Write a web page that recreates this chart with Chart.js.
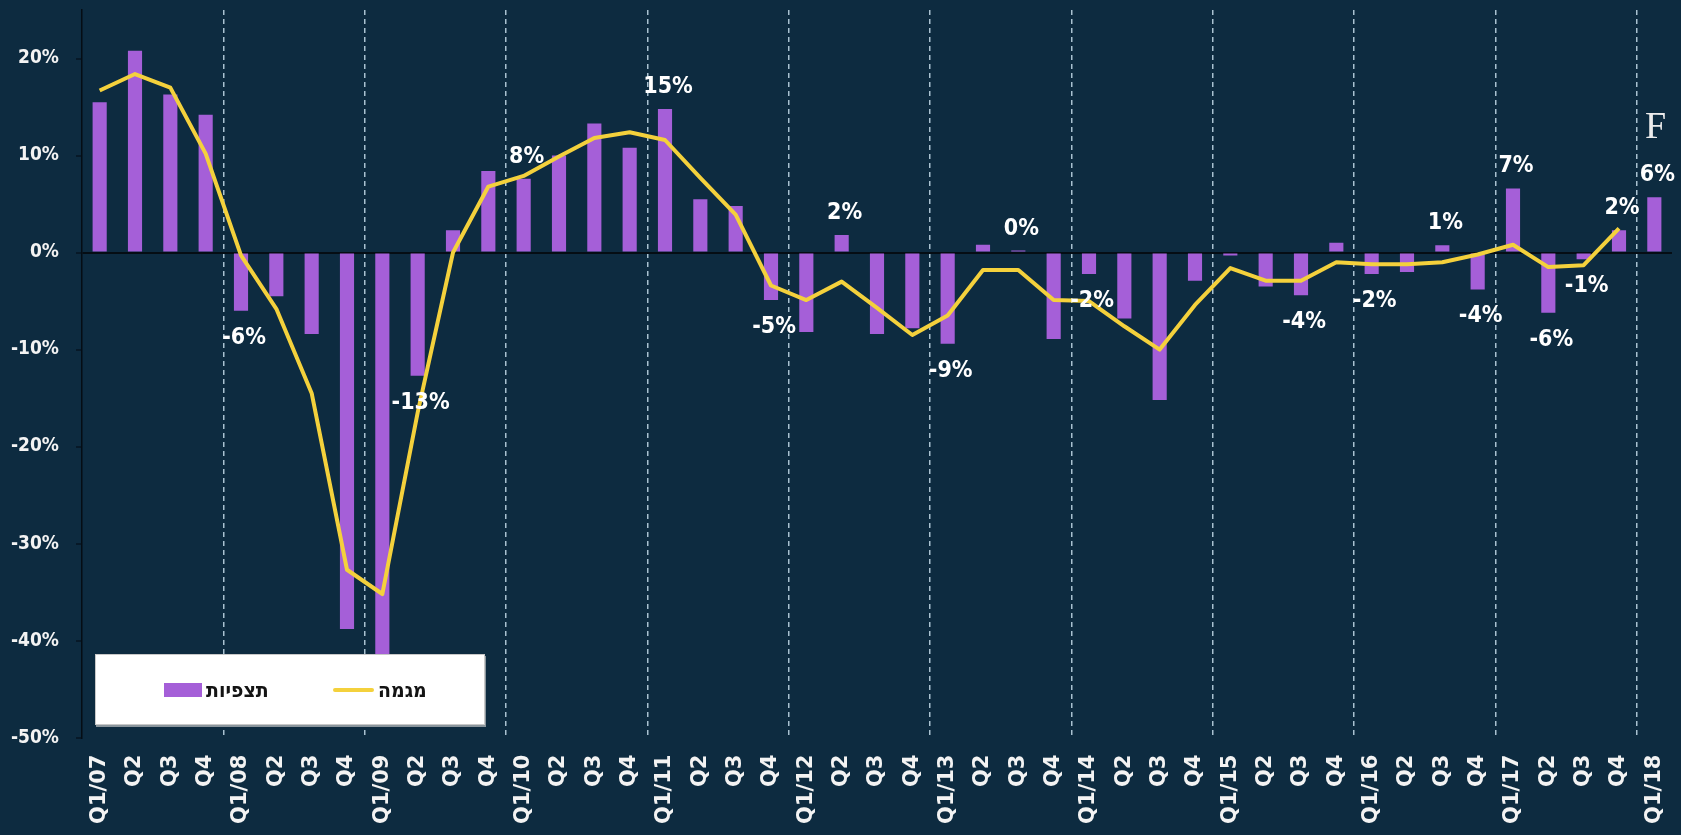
<!DOCTYPE html>
<html>
<head>
<meta charset="utf-8">
<script src="https://cdn.jsdelivr.net/npm/chart.js@4.4.1/dist/chart.umd.min.js"></script>
<style>
  html, body { margin: 0; padding: 0; background: #0d2b40; overflow: hidden; }
  #wrap { position: relative; width: 1681px; height: 840px; }
  #legend {
    position: absolute; left: 95px; top: 654px; width: 388px; height: 69px;
    background: #ffffff; border: 1px solid #c8c8c8; box-shadow: 1px 2px 0 #8a959c;
    font: bold 21px 'DejaVu Sans Condensed', 'Liberation Sans', sans-serif; color: #141414;
  }
  .lg-item { position: absolute; top: 0; height: 69px; display: flex; align-items: center; }
  .lg-swatch { display: inline-block; margin-right: 4px; }
</style>
</head>
<body>
<div id="wrap">
  <canvas id="c"></canvas>
  <div id="legend"></div>
</div>
<script>
// ---- data ----
const categories = [
  'Q1/07','Q2','Q3','Q4',
  'Q1/08','Q2','Q3','Q4',
  'Q1/09','Q2','Q3','Q4',
  'Q1/10','Q2','Q3','Q4',
  'Q1/11','Q2','Q3','Q4',
  'Q1/12','Q2','Q3','Q4',
  'Q1/13','Q2','Q3','Q4',
  'Q1/14','Q2','Q3','Q4',
  'Q1/15','Q2','Q3','Q4',
  'Q1/16','Q2','Q3','Q4',
  'Q1/17','Q2','Q3','Q4',
  'Q1/18'
];
const expectationsName = 'תצפיות';
const expectations = [
  15.5, 20.8, 16.3, 14.2,
  -6.0, -4.5, -8.4, -38.8,
  -42.0, -12.7, 2.3, 8.4,
  7.6, 10.0, 13.3, 10.8,
  14.8, 5.5, 4.8, -4.9,
  -8.2, 1.8, -8.4, -7.8,
  -9.4, 0.8, 0.2, -8.9,
  -2.2, -6.8, -15.2, -2.9,
  -0.3, -3.5, -4.4, 1.0,
  -2.2, -2.0, 0.75, -3.8,
  6.6, -6.2, -0.7, 2.3,
  5.7
];
const trendName = 'מגמה';
const trend = [
  16.7, 18.4, 17.0, 10.2,
  -0.3, -5.8, -14.5, -32.7,
  -35.2, -16.5, 0.0, 6.8,
  7.9, 9.9, 11.8, 12.4,
  11.6, 7.7, 3.9, -3.4,
  -4.9, -3.0, -5.7, -8.5,
  -6.5, -1.8, -1.8, -4.9,
  -5.0, -7.6, -10.0, -5.4,
  -1.6, -2.9, -2.9, -1.0,
  -1.2, -1.2, -1.0, -0.2,
  0.8, -1.5, -1.3, 2.5,
  null
];
const barLabels = [
  null, null, null, null,
  '-6%', null, null, null,
  null, '-13%', null, null,
  '8%', null, null, null,
  '15%', null, null, '-5%',
  null, '2%', null, null,
  '-9%', null, '0%', null,
  '-2%', null, null, null,
  null, null, '-4%', null,
  '-2%', null, '1%', '-4%',
  '7%', '-6%', '-1%', '2%',
  '6%'
];
const yTickValues = [-50, -40, -30, -20, -10, 0, 10, 20];
const cornerMark = 'F';

// ---- styles ----
const BG = '#0d2b40';
const PURPLE = '#a55fd8';
const YELLOW = '#f4d13c';
const condensed = "'DejaVu Sans Condensed', 'Liberation Sans Narrow', 'DejaVu Sans', sans-serif";

const bgPlugin = {
  id: 'bg',
  beforeDraw(chart) {
    const ctx = chart.ctx;
    ctx.save();
    ctx.fillStyle = BG;
    ctx.fillRect(0, 0, chart.width, chart.height);
    ctx.restore();
  }
};

const labelPlugin = {
  id: 'barLabels',
  afterDatasetsDraw(chart) {
    const meta = chart.getDatasetMeta(0);
    const ctx = chart.ctx;
    ctx.save();
    ctx.font = 'bold 23px ' + condensed;
    ctx.fillStyle = '#ffffff';
    ctx.textAlign = 'center';
    ctx.textBaseline = 'middle';
    meta.data.forEach((bar, i) => {
      const t = barLabels[i];
      if (!t) return;
      const v = expectations[i];
      const y = v >= 0 ? bar.y - 22 : bar.y + 27;
      ctx.fillText(t, bar.x + 3, y);
    });
    // corner mark
    const ca = chart.chartArea;
    ctx.font = "38px 'Liberation Serif', 'DejaVu Serif', serif";
    ctx.fillStyle = '#ececec';
    ctx.textAlign = 'left';
    ctx.textBaseline = 'alphabetic';
    ctx.fillText(cornerMark, ca.right - 27, 138);
    ctx.restore();
  }
};

const chart = new Chart(document.getElementById('c'), {
  data: {
    labels: categories,
    datasets: [
      {
        type: 'bar',
        label: expectationsName,
        data: expectations,
        backgroundColor: PURPLE,
        borderWidth: 0,
        barPercentage: 0.4,
        categoryPercentage: 1.0,
        order: 2
      },
      {
        type: 'line',
        label: trendName,
        data: trend,
        borderColor: YELLOW,
        backgroundColor: YELLOW,
        borderWidth: 4,
        pointRadius: 0,
        tension: 0,
        spanGaps: false,
        borderJoinStyle: 'round',
        order: 1
      }
    ]
  },
  options: {
    responsive: true,
    maintainAspectRatio: false,
    animation: false,
    layout: { padding: { top: 10, right: 9, left: 0, bottom: 0 } },
    plugins: { legend: { display: false }, tooltip: { enabled: false } },
    scales: {
      x: {
        type: 'category',
        offset: true,
        grid: {
          offset: true,
          drawTicks: false,
          lineWidth: 1.5,
          color: (ctx) => {
            if (!ctx.tick || ctx.index === 0) return 'rgba(0,0,0,0)';
            const lbl = categories[ctx.index];
            return (lbl && lbl.startsWith('Q1/')) ? '#a9c1d0' : 'rgba(0,0,0,0)';
          }
        },
        border: { display: false, dash: [5, 4] },
        ticks: {
          autoSkip: false,
          minRotation: 90,
          maxRotation: 90,
          padding: 17,
          color: '#f3f3f3',
          font: { family: "'DejaVu Sans', sans-serif", weight: 'bold', size: 21 }
        },
        afterFit(scale) {
          scale.height = 102.4;
          scale.paddingLeft = 0;
          scale.paddingRight = 0;
        }
      },
      y: {
        min: -50,
        max: 25,
        afterBuildTicks(scale) {
          scale.ticks = yTickValues.map(v => ({ value: v }));
        },
        grid: {
          lineWidth: 2,
          color: (ctx) => (ctx.tick && ctx.tick.value === 0) ? '#050d14' : 'rgba(0,0,0,0)',
          drawTicks: true,
          tickLength: 6,
          tickColor: '#061521',
          tickWidth: 1.5
        },
        border: { display: true, color: '#050d14', width: 1.5 },
        ticks: {
          padding: 17,
          color: '#f3f3f3',
          font: { family: condensed, weight: 'bold', size: 19 },
          callback: (v) => v + '%'
        },
        afterFit(scale) {
          scale.width = 82;
          scale.paddingTop = 0;
          scale.paddingBottom = 0;
        }
      }
    }
  },
  plugins: [bgPlugin, labelPlugin]
});

// ---- HTML legend built from datasets ----
const legendEl = document.getElementById('legend');
const itemLefts = [68, 237];
chart.data.datasets.forEach((ds, i) => {
  const item = document.createElement('div');
  item.className = 'lg-item';
  item.style.left = itemLefts[i] + 'px';
  const sw = document.createElement('span');
  sw.className = 'lg-swatch';
  if (ds.type === 'bar') {
    sw.style.width = '38px'; sw.style.height = '14px'; sw.style.background = ds.backgroundColor;
  } else {
    sw.style.width = '41px'; sw.style.height = '4px'; sw.style.background = ds.borderColor;
    sw.style.borderRadius = '2px';
  }
  const tx = document.createElement('span');
  tx.textContent = ds.label;
  tx.dir = 'rtl';
  item.appendChild(sw);
  item.appendChild(tx);
  legendEl.appendChild(item);
});
</script>
</body>
</html>
